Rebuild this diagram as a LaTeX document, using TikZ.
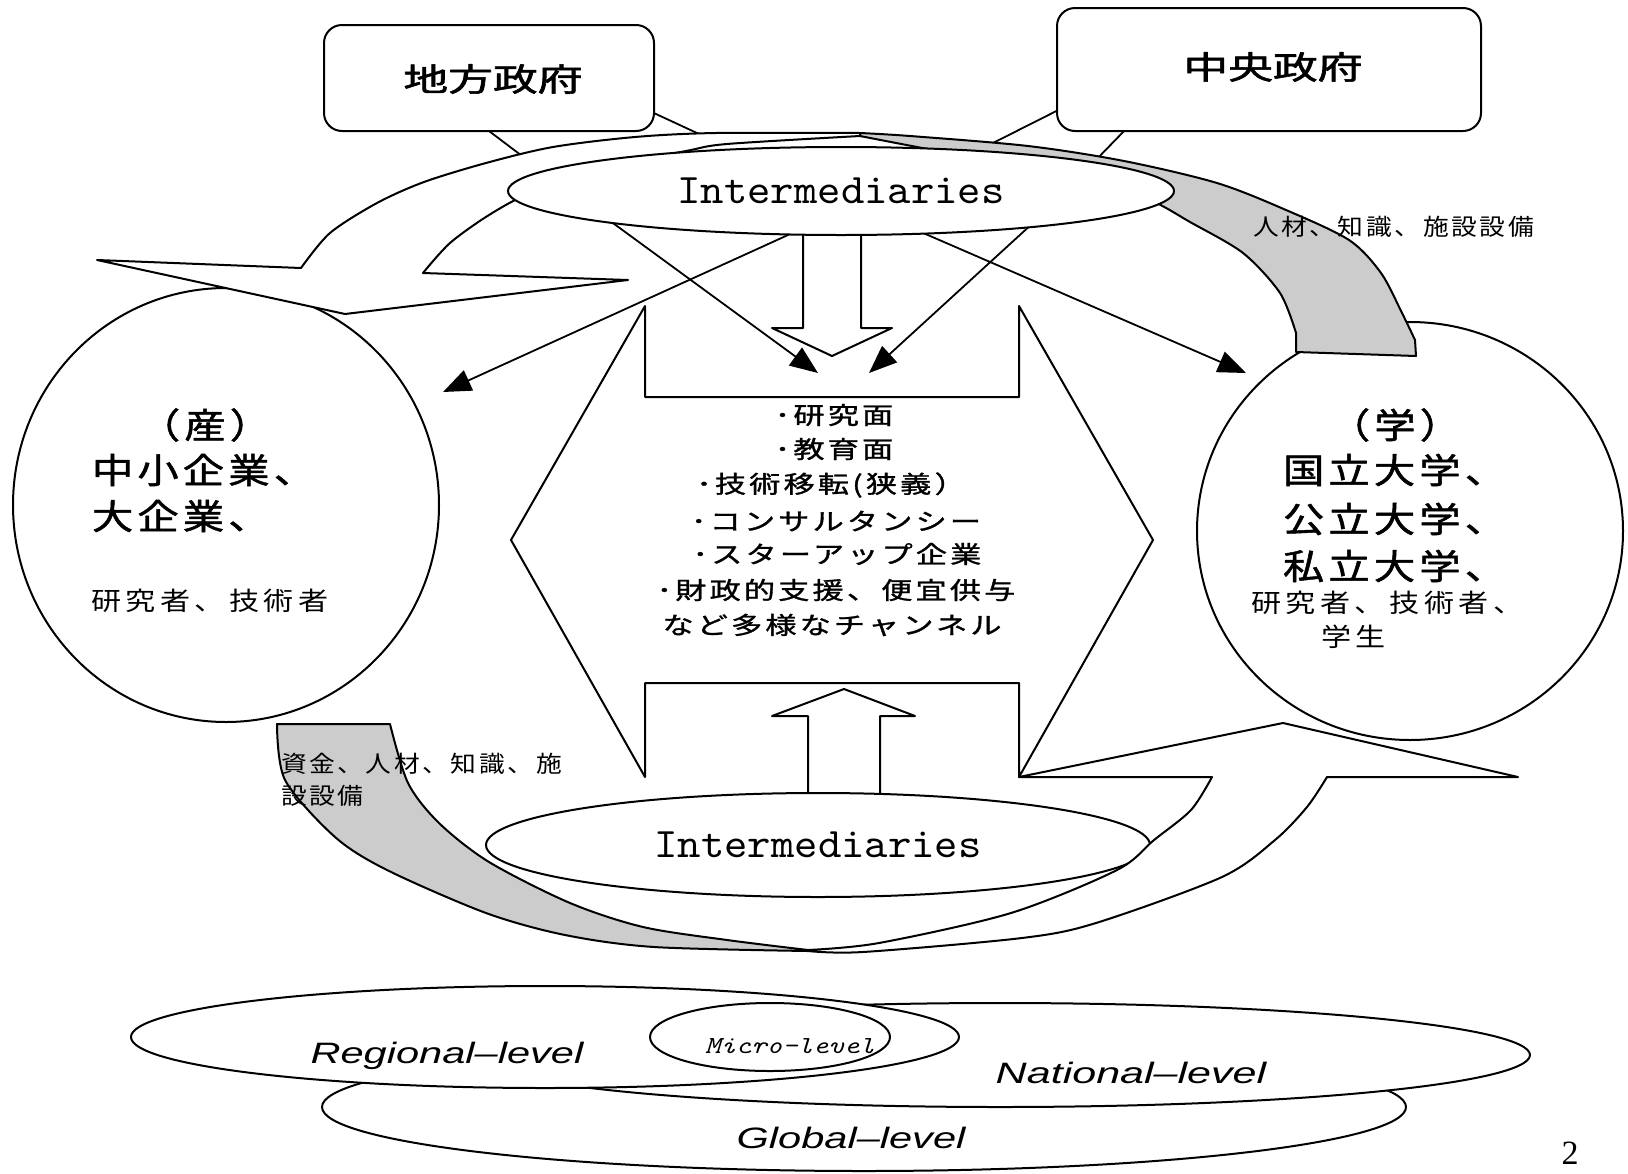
\documentclass[tikz,border=0pt]{standalone}
\usepackage{fontspec}
\usepackage{graphicx}
\usetikzlibrary{arrows.meta,shapes.geometric,calc}

% Japanese text in a gothic face, with weight and tracking per text style
\newfontfamily\jpT[FakeBold=1.6]{Noto Sans CJK JP}
\newfontfamily\jpC[LetterSpace=10,FakeBold=1.3]{Noto Sans CJK JP}
\newfontfamily\jpS[LetterSpace=15]{Noto Sans CJK JP}
\newfontfamily\jpL[LetterSpace=10,FakeBold=1.1]{Noto Sans CJK JP}
\newfontfamily\jpB[LetterSpace=10]{Noto Sans CJK JP}
% Latin labels
\newfontfamily\mono{lmmono10-regular.otf}
\newfontfamily\monoit{lmmono10-italic.otf}
\newfontfamily\lvl{Liberation Sans}
\newfontfamily\tnr{Liberation Serif}

\definecolor{bandgray}{gray}{0.8}
\newcommand{\wide}[2]{\scalebox{#1}[1]{#2}}

\begin{document}
\begin{tikzpicture}[x=1pt,y=-1pt,line width=2pt,line join=round,
  every node/.style={inner sep=0pt,outer sep=0pt},
  shapefill/.style={draw,fill=white},
  band/.style={draw,fill=bandgray},
  link/.style={line width=1.8pt},
  pointer/.style={line width=1.8pt,-{Triangle[length=28pt,width=22pt]}},
  titletxt/.style={font=\jpT\fontsize{32}{38}\selectfont},
  bigtxt/.style={font=\jpC\fontsize{35}{40}\selectfont,anchor=west},
  smalltxt/.style={font=\jpS\fontsize{25.5}{30}\selectfont,anchor=west},
  listtxt/.style={font=\jpL\fontsize{24}{28}\selectfont},
  bandtxt/.style={font=\jpB\fontsize{23}{28}\selectfont,anchor=west},
  midtxt/.style={font=\mono\fontsize{42}{48}\selectfont},
  leveltxt/.style={font=\lvl\itshape\fontsize{29.5}{34}\selectfont,anchor=base},
]
\fill[white] (0,0) rectangle (1628,1173);
\useasboundingbox (0,0) rectangle (1628,1173);

% ---------- government boxes ----------
\node[draw,fill=white,rounded corners=18pt,minimum width=330pt,minimum height=106pt] (lg) at (489,78) {};
\node[draw,fill=white,rounded corners=18pt,minimum width=424pt,minimum height=123pt] (cg) at (1269,69.5) {};

% ---------- industry and academia ----------
\node[draw,fill=white,ellipse,minimum width=426pt,minimum height=434pt] (ind) at (226,505) {};
\node[draw,fill=white,ellipse,minimum width=426pt,minimum height=418pt] (aca) at (1410,531) {};

% ---------- links from the governments ----------
\coordinate (lgA) at (530,162);
\coordinate (lgB) at (712,140);
\coordinate (cgA) at (985,147);
\coordinate (cgB) at (1093,163);
\draw[link] (lg.south) -- (lgA);
\draw[link] (lg.-12.3) -- (lgB);
\draw[link] (cg.191.65) -- (cgA);
\draw[link] (cg.203.4) -- (cgB);

% ---------- upper flows ----------
% grey band towards academia
\draw[band] plot[smooth] coordinates {(860,133) (910,136) (1028,146) (1124,161) (1217,183) (1286,210) (1349,240) (1381,273) (1402,313) (1415,340)}
  -- (1416,356) -- (1296,352)
  -- plot[smooth] coordinates {(1296,333) (1280,293) (1243,253) (1190,222) (1150,200) (1080,175) (960,155) (860,136)} -- cycle;
% white curved arrow towards industry
\draw[shapefill] plot[smooth] coordinates {(860,133) (716,133) (635,137) (553,147) (486,163) (424,182) (377,203) (330,233) (301,268)}
  -- (97,260) -- (345,314) -- (628,280) -- (423,273)
  -- plot[smooth] coordinates {(423,273) (450,243) (489,215) (530,193) (600,168) (686,151) (727,144) (860,136)} -- cycle;

% ---------- central channel shape ----------
\draw[shapefill] (645,306) -- (645,397) -- (1019,397) -- (1019,306) -- (1153,540) -- (1019,777)
  -- (1019,683) -- (645,683) -- (645,777) -- (511,540) -- cycle;
% block arrows
\draw[shapefill] (803,215) -- (803,328) -- (772,328) -- (832,356) -- (892,328) -- (861,328) -- (861,215);
\draw[shapefill] (808,815) -- (808,716) -- (772,716) -- (844,689) -- (915,716) -- (880,716) -- (880,815);

% upper intermediaries
\node[draw,fill=white,ellipse,minimum width=666pt,minimum height=88pt,midtxt] (ti) at (841,191) {\wide{1.06}{Intermediaries}};

% ---------- lower flows ----------
\draw[band] (277,724) -- (390,724)
  -- plot[smooth] coordinates {(390,724) (408,783) (439,823) (489,862) (570,903) (643,927) (727,940) (808,950)}
  -- plot[smooth] coordinates {(808,951) (654,947) (565,935) (486,913) (387,870) (335,837) (285,780) (277,724)} -- cycle;

\node[draw,fill=white,ellipse,minimum width=664pt,minimum height=104pt,midtxt] (bi) at (818,845) {\wide{1.06}{Intermediaries}};

\draw[shapefill] plot[smooth] coordinates {(808,950) (879,943) (1011,913) (1117,870) (1154,840) (1191,810) (1212,777)}
  -- (1019,777) -- (1283,723) -- (1518,777) -- (1327,777)
  -- plot[smooth] coordinates {(1327,777) (1307,807) (1275,840) (1222,877) (1096,923) (1022,938) (863,952) (808,951)} -- cycle;

% ---------- thin arrows from the upper intermediaries ----------
\coordinate (t1) at (818,373);
\coordinate (t2) at (443,392);
\coordinate (t3) at (869,373);
\coordinate (t4) at (1246,373);
\draw[pointer] (ti.188) -- (t1);
\draw[pointer] (ti.220.8) -- (t2);
\draw[pointer] (ti.-11.6) -- (t3);
\draw[pointer] (ti.-27.1) -- (t4);

% ---------- texts ----------
\node[titletxt] (lgt) at (493,79) {\wide{1.4}{地方政府}};
\node[titletxt] (cgt) at (1273,67) {\wide{1.4}{中央政府}};

\node[bigtxt,anchor=center] (i0) at (205,425) {\wide{1.18}{（産）}};
\node[bigtxt] (i1) at (92,470) {\wide{1.18}{中小企業、}};
\node[bigtxt] (i2) at (92,516) {\wide{1.18}{大企業、}};
\node[smalltxt] (i3) at (91,601) {\wide{1.18}{研究者、技術者}};

\node[bigtxt,anchor=center] (a0) at (1395,425) {\wide{1.18}{（学）}};
\node[bigtxt] (a1) at (1283,470) {\wide{1.18}{国立大学、}};
\node[bigtxt] (a2) at (1283,519) {\wide{1.18}{公立大学、}};
\node[bigtxt] (a3) at (1283,566) {\wide{1.18}{私立大学、}};
\node[smalltxt] (a4) at (1251,603) {\wide{1.18}{研究者、技術者、}};
\node[smalltxt] (a5) at (1321,637) {\wide{1.18}{学生}};

\node[listtxt] (c1) at (834,415) {\wide{1.3}{･研究面}};
\node[listtxt] (c2) at (834,449) {\wide{1.3}{･教育面}};
\node[listtxt] (c3) at (831,485) {\wide{1.3}{･技術移転(狭義）}};
\node[listtxt] (c4) at (836,521) {\wide{1.3}{･コンサルタンシー}};
\node[listtxt] (c5) at (837,554) {\wide{1.3}{･スターアップ企業}};
\node[listtxt] (c6) at (836,590) {\wide{1.3}{･財政的支援、便宜供与}};
\node[listtxt] (c7) at (832,625) {\wide{1.3}{など多様なチャンネル}};

\node[bandtxt] (lbB) at (1253,227) {\wide{1.12}{人材、知識、施設設備}};
\node[bandtxt] (lbC1) at (281,764) {\wide{1.12}{資金、人材、知識、施}};
\node[bandtxt] (lbC2) at (281,796) {\wide{1.12}{設設備}};

% ---------- levels ----------
\node[draw,fill=white,ellipse,minimum width=1084pt,minimum height=128pt] (glo) at (864,1107) {};
\node[draw,fill=white,ellipse,minimum width=1060pt,minimum height=104pt] (nat) at (1000,1055) {};
\node[draw,fill=white,ellipse,minimum width=828pt,minimum height=102pt] (reg) at (545,1037) {};
\node[draw,fill=white,ellipse,minimum width=240pt,minimum height=68pt] (mic) at (770,1037) {};

\node[leveltxt] (regt) at (447,1063) {\wide{1.41}{Regional–level}};
\node[leveltxt] (natt) at (1131,1083) {\wide{1.46}{National–level}};
\node[leveltxt] (glot) at (851,1148) {\wide{1.41}{Global–level}};
\node[font=\monoit\fontsize{24.5}{28}\selectfont,anchor=base] (mict) at (790,1053) {\wide{1.2}{Micro-level}};

\node[font=\tnr\fontsize{34}{40}\selectfont,anchor=base] (pg) at (1570,1164) {2};
\end{tikzpicture}
\end{document}
